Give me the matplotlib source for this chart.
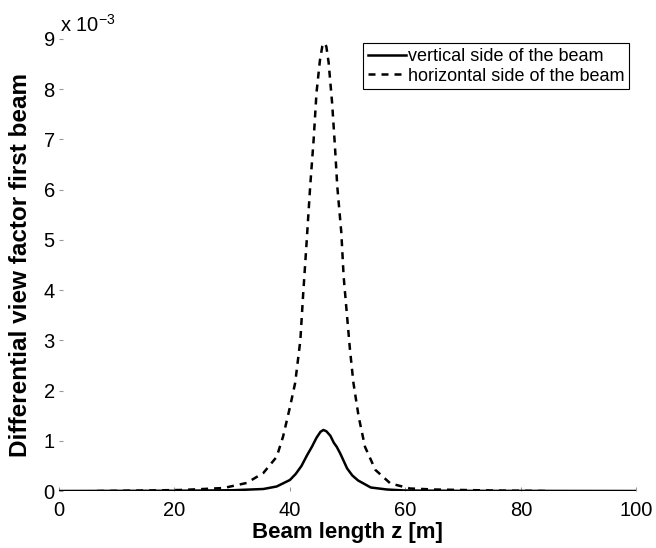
import matplotlib
matplotlib.use("Agg")
import matplotlib.pyplot as plt

plt.rcParams['font.family'] = ['Liberation Sans', 'DejaVu Sans']
plt.rcParams['mathtext.fontset'] = 'custom'
plt.rcParams['mathtext.rm'] = 'Liberation Sans'

# view factor values are in units of 1e-3
z_vert = [0, 20, 30, 35.4, 37.7, 40.0, 41.0, 42.0, 43.0, 43.8, 44.6, 45.3, 45.8,
          46.3, 47.0, 47.6, 48.1, 48.7, 49.9, 50.8, 51.8, 54.0, 56.8, 60, 70, 100]
f_vert = [0, 0.005, 0.015, 0.04, 0.09, 0.22, 0.34, 0.50, 0.72, 0.88, 1.06, 1.18, 1.215,
          1.19, 1.10, 0.96, 0.88, 0.75, 0.45, 0.31, 0.21, 0.07, 0.03, 0.01, 0.003, 0]

z_horz = [6.6, 15, 21, 25, 28.5, 32.5, 35.4, 37.7, 38.8, 40.0, 40.9, 41.8, 42.3,
          42.8, 43.5, 44.1, 44.6, 45.2, 45.6, 45.9, 46.3, 46.7, 47.3, 47.8, 48.2,
          48.9, 49.3, 49.9, 50.4, 51.0, 51.9, 53.0, 54.8, 57.4, 60.8, 65, 75, 85]
f_horz = [0.0, 0.01, 0.02, 0.04, 0.06, 0.16, 0.36, 0.68, 1.08, 1.67, 2.15, 3.0, 3.94,
          4.8, 6.06, 6.99, 7.93, 8.58, 8.85, 8.92, 8.85, 8.53, 7.73, 6.85, 6.06,
          5.14, 4.27, 3.47, 2.81, 2.15, 1.48, 0.88, 0.42, 0.15, 0.05, 0.03, 0.01, 0.0]

labels = ['vertical side of the beam', 'horizontal side of the beam']

fig = plt.figure(figsize=(6.56, 5.48), dpi=100)
ax = fig.add_axes([0.090, 0.104, 0.880, 0.825])

ax.plot(z_vert, f_vert, color='black', lw=1.8, label=labels[0])
ax.plot(z_horz, f_horz, color='black', lw=1.8, dashes=(2.8, 2.4), label=labels[1])

ax.set_xlim(0, 100)
ax.set_ylim(0, 9)
ax.set_xticks(range(0, 101, 20))
ax.set_yticks(range(0, 10))
for s in ax.spines.values():
    s.set_visible(False)
ax.tick_params(direction='in', length=3, width=0.8, color='#999999',
               labelsize=14.5, pad=3)
ax.tick_params(axis='x', pad=7)

ax.set_xlabel('Beam length z [m]', fontsize=16, fontweight='bold')
ax.set_ylabel('Differential view factor first beam', fontsize=17.5, fontweight='bold')
ax.xaxis.set_label_coords(0.5, -0.069)
ax.yaxis.set_label_coords(-0.047, 0.5)

ax.text(0.002, 1.016, r'x 10$^{-3}$', transform=ax.transAxes, fontsize=14.5,
        ha='left', va='baseline')

leg = ax.legend(loc='upper right', bbox_to_anchor=(0.988, 0.99), fontsize=13,
                fancybox=False, edgecolor='black', framealpha=1,
                handlelength=2.1, handletextpad=0.15, borderpad=0.25,
                labelspacing=0.15, borderaxespad=0)
leg.get_frame().set_linewidth(0.8)

fig.savefig('out.png', dpi=100)
